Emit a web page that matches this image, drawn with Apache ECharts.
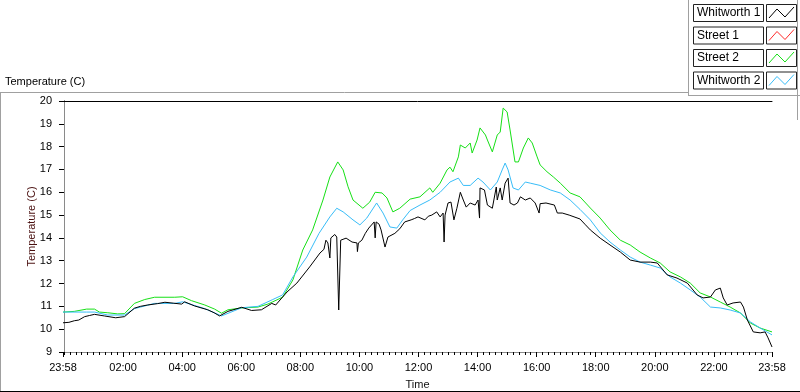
<!DOCTYPE html>
<html>
<head>
<meta charset="utf-8">
<script src="https://cdn.jsdelivr.net/npm/echarts@6/dist/echarts.min.js"></script>
<style>
  html, body { margin: 0; padding: 0; background: #fff; }
  #chart { width: 800px; height: 392px; }
</style>
</head>
<body>
<div id="chart"></div>
<script>
// time is minutes after 00:00 (23:58 of the previous day = -2)
const majorTicks = [-2, 120, 240, 360, 480, 600, 720, 840, 960, 1080, 1200, 1320, 1438]
const minorTicks = Array.from({ length: 120 }, (_, i) => i * 12)

const seriesNames = ['Whitworth 1', 'Street 1', 'Street 2', 'Whitworth 2']
const seriesColors = ['#000000', '#ff2a2a', '#16e016', '#38bdf8']

const whitworth1 = [
  [-2, 10.28], [10, 10.3], [21, 10.37], [30, 10.4], [42, 10.55], [52, 10.6], [62, 10.65], [82, 10.58],
  [105, 10.5], [123, 10.55], [143, 10.92], [155, 11.0], [170, 11.06], [190, 11.12], [205, 11.18],
  [222, 11.14], [239, 11.1], [245, 11.2], [265, 11.02], [292, 10.85], [305, 10.72], [316, 10.58],
  [333, 10.78], [361, 10.96], [381, 10.82], [401, 10.85], [422, 11.13], [430, 11.06],
  [453, 11.63], [473, 12.02], [499, 12.73], [520, 13.34], [528, 13.5], [532, 13.9], [536, 13.78], [540, 13.12], [542, 14.0],
  [546, 14.04], [550, 14.15], [554, 14.04], [558, 10.84], [562, 13.9], [573, 13.99], [585, 13.82], [595, 13.78], [596, 13.4],
  [598, 13.78], [605, 13.9], [612, 14.2], [619, 14.43], [630, 14.7], [632, 14.0], [634, 14.7], [640, 14.6], [644, 14.35],
  [652, 13.6], [658, 14.04], [672, 14.2], [682, 14.4], [692, 14.7], [705, 14.79], [712, 14.85], [719, 14.92], [733, 14.79],
  [740, 14.95], [747, 15.0], [757, 15.14], [764, 14.92], [770, 15.09], [772, 13.82], [774, 15.0], [780, 15.53],
  [786, 15.57], [792, 14.79], [798, 15.3], [805, 16.0], [811, 15.66], [817, 15.35], [825, 15.53],
  [835, 15.44], [841, 15.66], [844, 14.87], [845, 16.19], [854, 16.1], [860, 15.44], [870, 15.3],
  [878, 16.23], [880, 15.66], [886, 16.19], [890, 15.66], [896, 16.4], [902, 16.62], [906, 15.53],
  [914, 15.44], [921, 15.53], [927, 15.8], [937, 15.66], [947, 15.75], [957, 15.53], [965, 15.09],
  [967, 15.5], [979, 15.53], [996, 15.44], [1002, 15.09], [1012, 15.09], [1026, 15.0], [1048, 14.83],
  [1058, 14.6], [1069, 14.35], [1089, 13.99], [1109, 13.69], [1130, 13.38], [1150, 13.03], [1170, 12.94],
  [1191, 12.94], [1205, 12.9], [1225, 12.38], [1245, 12.24], [1266, 12.02], [1286, 11.5],
  [1298, 11.37], [1313, 11.41], [1323, 11.72], [1333, 11.8], [1339, 11.37], [1347, 11.06],
  [1359, 11.15], [1374, 11.19], [1380, 10.97], [1388, 10.4], [1400, 9.88], [1414, 9.84],
  [1424, 9.88], [1430, 9.62], [1438, 9.22]
]

const street1 = []

const street2 = [
  [-2, 10.75], [21, 10.78], [46, 10.88], [62, 10.88], [72, 10.75], [89, 10.72], [109, 10.67],
  [123, 10.68], [143, 11.13], [164, 11.3], [184, 11.4], [225, 11.4], [241, 11.42], [259, 11.25],
  [286, 11.06], [306, 10.88], [320, 10.7], [333, 10.85], [361, 10.93], [394, 10.97], [414, 11.1],
  [424, 11.2], [444, 11.4], [465, 12.16], [485, 13.47], [505, 14.35], [526, 15.66], [540, 16.67],
  [556, 17.33], [567, 16.98], [577, 16.24], [587, 15.66], [607, 15.3], [621, 15.57], [632, 16.0],
  [646, 15.97], [656, 15.75], [668, 15.14], [682, 15.3], [703, 15.7], [723, 15.8], [743, 16.19],
  [749, 16.0], [764, 16.4], [778, 16.98], [784, 17.1], [790, 16.9], [801, 17.55], [805, 18.07],
  [815, 17.94], [825, 18.16], [829, 17.72], [839, 18.29], [845, 18.82], [856, 18.51], [860, 18.29],
  [870, 17.77], [880, 18.51], [886, 18.64], [892, 19.69], [900, 19.52], [906, 18.73], [916, 17.33],
  [923, 17.33], [933, 17.94], [943, 18.38], [951, 18.16], [961, 17.55], [967, 17.2], [981, 16.9],
  [994, 16.67], [1008, 16.4], [1028, 15.97], [1048, 15.8], [1069, 15.31], [1089, 14.87],
  [1109, 14.35], [1130, 13.9], [1150, 13.69], [1170, 13.38], [1191, 13.12], [1211, 12.9],
  [1231, 12.51], [1252, 12.29], [1272, 12.02], [1292, 11.59], [1313, 11.41], [1333, 11.19],
  [1353, 10.97], [1374, 10.71], [1394, 10.27], [1414, 10.05], [1438, 9.88]
]

const whitworth2 = [
  [-2, 10.75], [46, 10.75], [62, 10.75], [89, 10.62], [123, 10.62], [143, 10.9], [184, 11.13],
  [225, 11.13], [241, 11.2], [286, 10.9], [320, 10.58], [361, 10.94], [394, 11.0], [424, 11.3],
  [444, 11.5], [465, 12.29], [493, 13.16], [518, 14.2], [540, 14.92], [554, 15.3], [567, 15.14],
  [587, 14.79], [601, 14.57], [615, 14.87], [635, 15.53], [648, 15.09], [662, 14.48], [676, 14.43],
  [688, 14.79], [703, 15.2], [723, 15.44], [743, 15.66], [764, 16.0], [784, 16.45], [801, 16.62],
  [811, 16.3], [825, 16.3], [841, 16.62], [851, 16.45], [866, 16.1], [880, 16.45], [890, 16.98],
  [896, 17.28], [902, 16.98], [912, 16.19], [923, 16.1], [937, 16.45], [947, 16.4], [967, 16.3],
  [988, 16.1], [1008, 15.97], [1028, 15.66], [1048, 15.25], [1069, 14.79], [1089, 14.22],
  [1109, 13.82], [1130, 13.47], [1150, 13.16], [1170, 12.94], [1191, 12.81], [1211, 12.68],
  [1231, 12.29], [1252, 12.02], [1272, 11.72], [1292, 11.41], [1313, 10.97], [1333, 10.93],
  [1353, 10.84], [1374, 10.71], [1394, 10.32], [1414, 10.05], [1438, 9.75]
]

const seriesData = [whitworth1, street1, street2, whitworth2]

const FONT = 'Liberation Sans'

function fmtTime(v) {
  if (v < 0 || v >= 1438) return '23:58'
  const h = Math.floor(v / 60)
  const m = v % 60
  return String(h).padStart(2, '0') + ':' + String(m).padStart(2, '0')
}

// legend drawn as boxed name + boxed zigzag swatch
function legendGraphics() {
  const out = []
  seriesNames.forEach((name, i) => {
    const top = 4 + i * 22.5
    out.push({
      type: 'rect', shape: { x: 693.5, y: top + 0.5, width: 70, height: 17 },
      style: { fill: '#fff', stroke: '#222', lineWidth: 1 }
    })
    out.push({
      type: 'text', left: 697, top: top + 3,
      style: { text: name, font: '12px ' + FONT, fill: '#000' }
    })
    out.push({
      type: 'rect', shape: { x: 766.5, y: top + 0.5, width: 30, height: 17 },
      style: { fill: '#fff', stroke: '#222', lineWidth: 1 }
    })
    out.push({
      type: 'polyline',
      shape: { points: [[769, top + 14], [777, top + 5], [785, top + 13], [794, top + 3]] },
      style: { stroke: seriesColors[i], lineWidth: 1, fill: null }
    })
  })
  return out
}

const chart = echarts.init(document.getElementById('chart'), null, { renderer: 'canvas' })

chart.setOption({
  animation: false,
  backgroundColor: '#fff',
  textStyle: { fontFamily: FONT },
  grid: { left: 63, right: 28, top: 101, bottom: 40, outerBoundsMode: 'none', containLabel: false },
  graphic: [
    { type: 'line', shape: { x1: 0, y1: 92.5, x2: 689, y2: 92.5 }, style: { stroke: '#a0a0a0', lineWidth: 1 } },
    { type: 'line', shape: { x1: 0.5, y1: 92, x2: 0.5, y2: 392 }, style: { stroke: '#a0a0a0', lineWidth: 1 } },
    { type: 'line', shape: { x1: 0, y1: 391.5, x2: 800, y2: 391.5 }, style: { stroke: '#000', lineWidth: 1 } },
    { type: 'line', shape: { x1: 688.5, y1: 0, x2: 688.5, y2: 95.5 }, style: { stroke: '#a0a0a0', lineWidth: 1 } },
    { type: 'line', shape: { x1: 688, y1: 95.5, x2: 800, y2: 95.5 }, style: { stroke: '#a0a0a0', lineWidth: 1 } },
    { type: 'line', shape: { x1: 797.5, y1: 0, x2: 797.5, y2: 120 }, style: { stroke: '#a0a0a0', lineWidth: 1 } },
    {
      type: 'text', left: 5, top: 76,
      style: { text: 'Temperature (C)', font: '11px ' + FONT, fill: '#000' }
    },
    ...legendGraphics()
  ],
  xAxis: [
    {
      type: 'value', min: -2, max: 1438, position: 'bottom',
      name: 'Time', nameLocation: 'middle', nameGap: 27, nameMoveOverlap: false,
      nameTextStyle: { color: '#111', fontSize: 11, fontFamily: FONT },
      axisLine: { show: true, lineStyle: { color: '#8a8a8a', width: 1 } },
      axisTick: { show: true, customValues: majorTicks, length: 5, lineStyle: { color: '#000' } },
      axisLabel: {
        customValues: majorTicks, formatter: fmtTime, margin: 10,
        color: '#000', fontSize: 11, fontFamily: FONT
      },
      splitLine: { show: false }
    },
    {
      type: 'value', min: -2, max: 1438, position: 'bottom',
      axisLine: { show: true, lineStyle: { color: 'rgba(0,0,0,0)' } },
      axisTick: { show: true, customValues: minorTicks, length: 3, lineStyle: { color: '#000' } },
      axisLabel: { show: true, customValues: [], formatter: () => '' },
      splitLine: { show: false }
    },
    {
      type: 'value', min: -2, max: 1438, position: 'top',
      axisLine: { show: true, lineStyle: { color: '#000', width: 1 } },
      axisTick: { show: false }, axisLabel: { show: false }, splitLine: { show: false }
    }
  ],
  yAxis: [
    {
      type: 'value', min: 9, max: 20, interval: 1,
      name: 'Temperature (C)', nameLocation: 'middle', nameGap: 26, nameMoveOverlap: false,
      nameTextStyle: { color: '#4a1010', fontSize: 11, fontFamily: FONT },
      axisLine: { show: true, lineStyle: { color: '#000', width: 1 } },
      axisTick: { show: true, length: 5, lineStyle: { color: '#000' } },
      axisLabel: { color: '#000', fontSize: 11, fontFamily: FONT, margin: 11 },
      splitLine: { show: false }
    },
    {
      type: 'value', min: 9, max: 20, position: 'right',
      axisLine: { show: true, lineStyle: { color: '#8a8a8a', width: 1 } },
      axisTick: { show: false }, axisLabel: { show: false }, splitLine: { show: false }
    }
  ],
  // each x axis gets a series so its scale is not blank; all share the same range
  series: [2, 3, 1, 0].map((i) => ({
    name: seriesNames[i],
    type: 'line',
    data: seriesData[i],
    showSymbol: false,
    symbol: 'none',
    lineStyle: { color: seriesColors[i], width: 1 },
    itemStyle: { color: seriesColors[i] },
    xAxisIndex: i === 2 ? 1 : i === 3 ? 2 : 0,
    yAxisIndex: 0
  }))
})
</script>
</body>
</html>
